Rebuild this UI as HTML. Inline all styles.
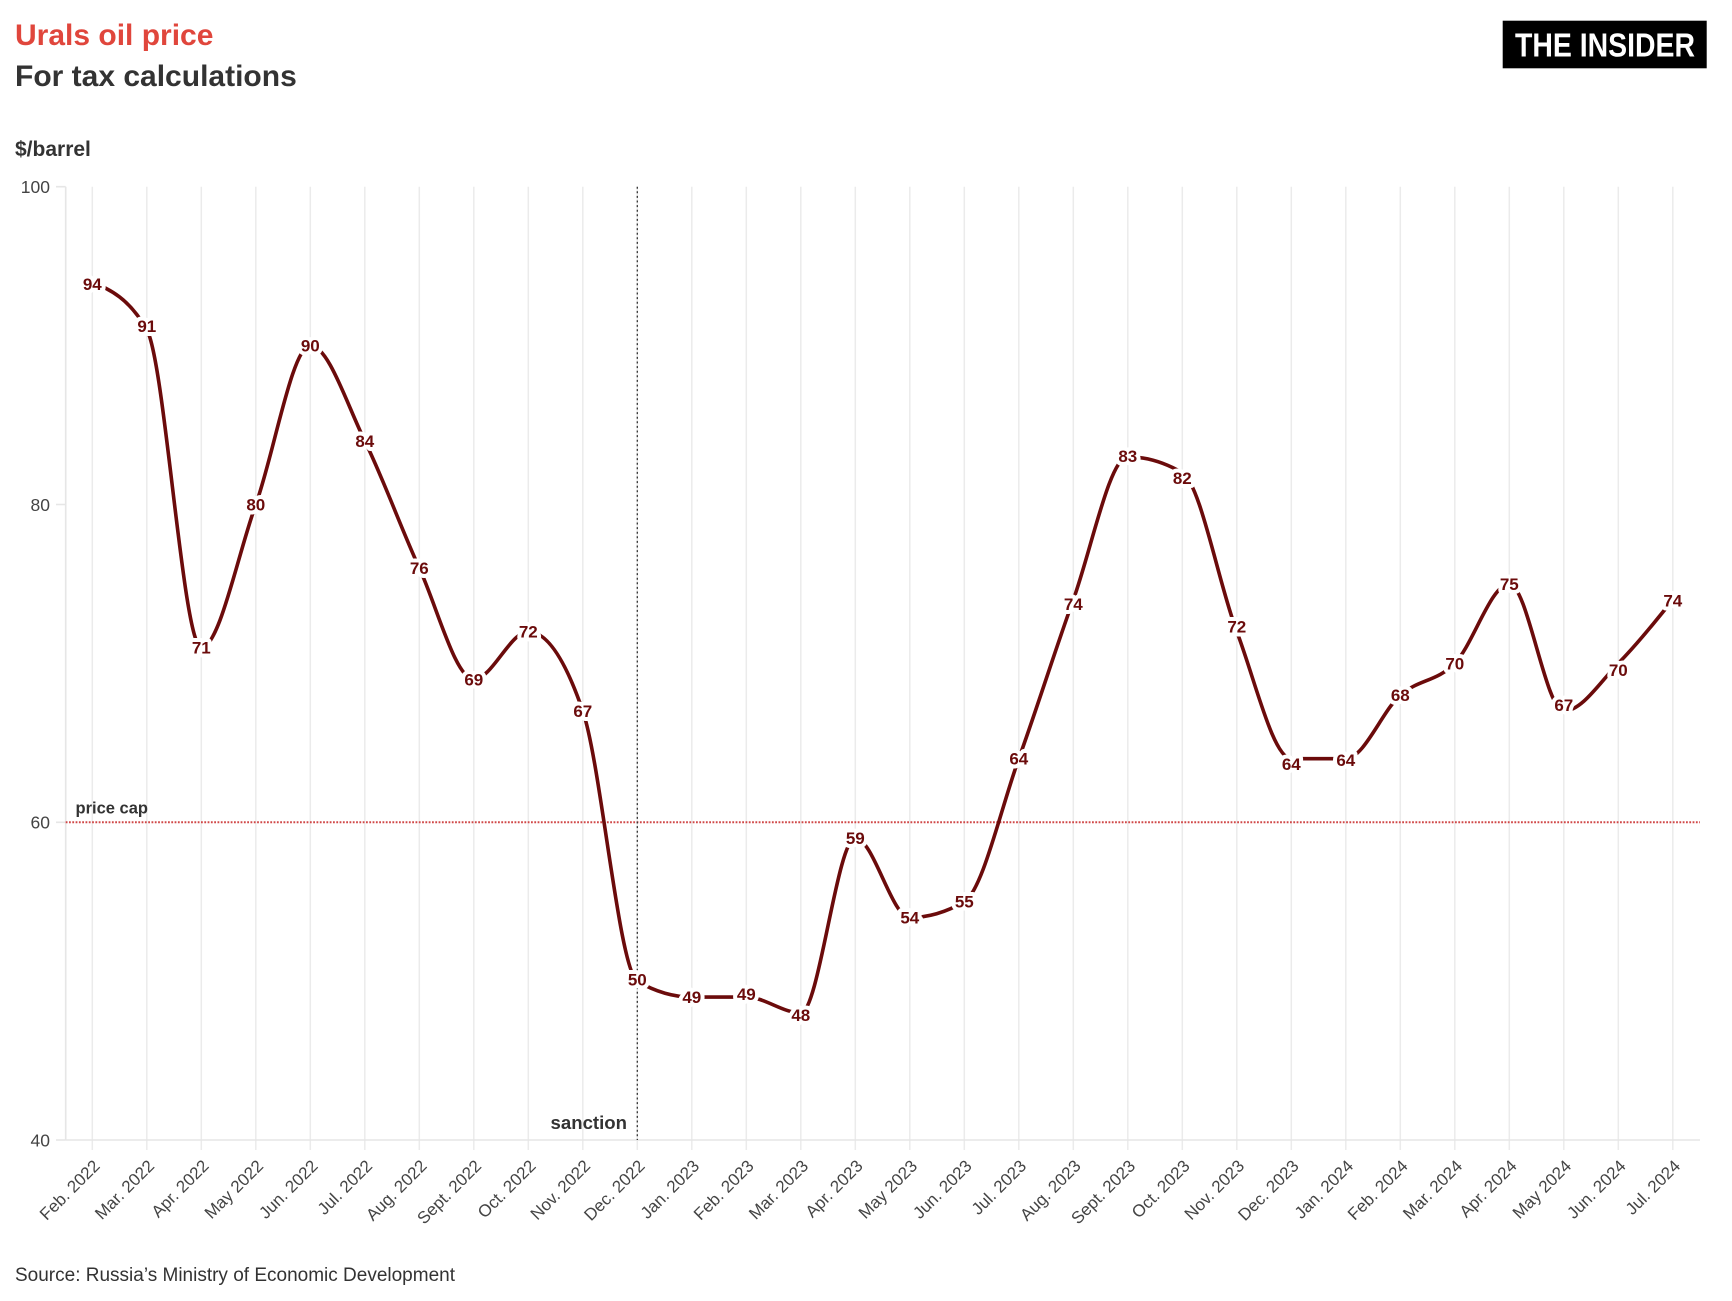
<!DOCTYPE html>
<html>
<head>
<meta charset="utf-8">
<style>
  html,body{margin:0;padding:0;background:#fff;}
  svg{display:block;}
  text{font-family:"Liberation Sans",Arial,sans-serif;}
</style>
</head>
<body>
<svg width="1732" height="1301" viewBox="0 0 1732 1301" xmlns="http://www.w3.org/2000/svg">
  <rect x="0" y="0" width="1732" height="1301" fill="#fff"/>

  <!-- Titles -->
  <text x="15" y="45" font-size="30" font-weight="bold" fill="#e0463c">Urals oil price</text>
  <text x="15" y="86" font-size="30" font-weight="bold" fill="#333">For tax calculations</text>
  <text x="15" y="156" font-size="21" font-weight="bold" fill="#333">$/barrel</text>

  <!-- Logo -->
  <rect x="1502.7" y="20.7" width="204" height="47.6" fill="#000"/>
  <text x="1515" y="56.7" font-size="33" font-weight="bold" fill="#fff" textLength="180" lengthAdjust="spacingAndGlyphs">THE INSIDER</text>

  <!-- Vertical gridlines -->
  <g stroke="#ebebeb" stroke-width="1.5">
    <line x1="92.3" y1="186.7" x2="92.3" y2="1150"/>
    <line x1="146.8" y1="186.7" x2="146.8" y2="1150"/>
    <line x1="201.3" y1="186.7" x2="201.3" y2="1150"/>
    <line x1="255.8" y1="186.7" x2="255.8" y2="1150"/>
    <line x1="310.3" y1="186.7" x2="310.3" y2="1150"/>
    <line x1="364.8" y1="186.7" x2="364.8" y2="1150"/>
    <line x1="419.3" y1="186.7" x2="419.3" y2="1150"/>
    <line x1="473.8" y1="186.7" x2="473.8" y2="1150"/>
    <line x1="528.3" y1="186.7" x2="528.3" y2="1150"/>
    <line x1="582.8" y1="186.7" x2="582.8" y2="1150"/>
    <line x1="637.3" y1="186.7" x2="637.3" y2="1150"/>
    <line x1="691.8" y1="186.7" x2="691.8" y2="1150"/>
    <line x1="746.3" y1="186.7" x2="746.3" y2="1150"/>
    <line x1="800.8" y1="186.7" x2="800.8" y2="1150"/>
    <line x1="855.3" y1="186.7" x2="855.3" y2="1150"/>
    <line x1="909.8" y1="186.7" x2="909.8" y2="1150"/>
    <line x1="964.3" y1="186.7" x2="964.3" y2="1150"/>
    <line x1="1018.8" y1="186.7" x2="1018.8" y2="1150"/>
    <line x1="1073.3" y1="186.7" x2="1073.3" y2="1150"/>
    <line x1="1127.8" y1="186.7" x2="1127.8" y2="1150"/>
    <line x1="1182.3" y1="186.7" x2="1182.3" y2="1150"/>
    <line x1="1236.8" y1="186.7" x2="1236.8" y2="1150"/>
    <line x1="1291.3" y1="186.7" x2="1291.3" y2="1150"/>
    <line x1="1345.8" y1="186.7" x2="1345.8" y2="1150"/>
    <line x1="1400.3" y1="186.7" x2="1400.3" y2="1150"/>
    <line x1="1454.8" y1="186.7" x2="1454.8" y2="1150"/>
    <line x1="1509.3" y1="186.7" x2="1509.3" y2="1150"/>
    <line x1="1563.8" y1="186.7" x2="1563.8" y2="1150"/>
    <line x1="1618.3" y1="186.7" x2="1618.3" y2="1150"/>
    <line x1="1672.8" y1="186.7" x2="1672.8" y2="1150"/>
  </g>

  <!-- Axes -->
  <g stroke="#e6e6e6" stroke-width="1.6">
    <line x1="65.7" y1="186.7" x2="65.7" y2="1140"/>
    <line x1="65.7" y1="1140" x2="1700" y2="1140"/>
    <line x1="56" y1="186.7" x2="65.7" y2="186.7"/>
    <line x1="56" y1="504.5" x2="65.7" y2="504.5"/>
    <line x1="56" y1="822.3" x2="65.7" y2="822.3"/>
    <line x1="56" y1="1140" x2="65.7" y2="1140"/>
  </g>

  <!-- Y labels -->
  <g font-size="17.5" fill="#444" text-anchor="end">
    <text x="50" y="193">100</text>
    <text x="50" y="510.8">80</text>
    <text x="50" y="828.6">60</text>
    <text x="50" y="1146.3">40</text>
  </g>

  <!-- Price cap -->
  <line x1="65.7" y1="822.3" x2="1700" y2="822.3" stroke="#d04848" stroke-width="2" stroke-dasharray="1.8 1.5"/>
  <text x="75.5" y="813.3" font-size="16.5" font-weight="bold" fill="#333">price cap</text>

  <!-- Sanction -->
  <line x1="637.3" y1="186.7" x2="637.3" y2="1140" stroke="#333" stroke-width="1.3" stroke-dasharray="2 2.6"/>
  <text x="627" y="1129" font-size="18.6" font-weight="bold" fill="#333" text-anchor="end">sanction</text>

  <!-- Series line -->
  <g transform="matrix(54.5,0,0,-15.889,92.3,1775.6)">
    <path fill="none" stroke="#6b0b0b" stroke-width="3.6" stroke-linecap="round" stroke-linejoin="round" vector-effect="non-scaling-stroke"
      d="M0,94
         C0.3333,93.5 0.6667,93 1,91
         C1.3333,89 1.6667,71 2,71
         C2.3333,71 2.6667,76.8333 3,80
         C3.3333,83.1667 3.6667,90 4,90
         C4.3333,90 4.6667,86.3333 5,84
         C5.3333,81.6667 5.6667,78.5 6,76
         C6.3333,73.5 6.6667,69 7,69
         C7.3333,69 7.6667,72 8,72
         C8.3333,72 8.6667,70.3333 9,67
         C9.3333,63.6667 9.6667,50.6667 10,50
         C10.3333,49.3333 10.6667,49 11,49
         C11.3333,49 11.6667,49 12,49
         C12.3333,49 12.6667,48 13,48
         C13.3333,48 13.6667,59 14,59
         C14.3333,59 14.6667,54 15,54
         C15.3333,54 15.6667,54.3333 16,55
         C16.3333,55.6667 16.6667,60.8333 17,64
         C17.3333,67.1667 17.6667,70.8333 18,74
         C18.3333,77.1667 18.6667,83 19,83
         C19.3333,83 19.6667,82.6667 20,82
         C20.3333,81.3333 20.6667,75 21,72
         C21.3333,69 21.6667,64 22,64
         C22.3333,64 22.6667,64 23,64
         C23.3333,64 23.6667,67 24,68
         C24.3333,69 24.6667,68.8333 25,70
         C25.3333,71.1667 25.6667,75 26,75
         C26.3333,75 26.6667,67 27,67
         C27.3333,67 27.6667,68.8333 28,70
         C28.3333,71.1667 28.6667,72.5833 29,74"/>
  </g>

  <!-- Value labels -->
  <g font-size="17" font-weight="bold" fill="#6b0b0b" text-anchor="middle" stroke="#fff" stroke-width="8" stroke-linejoin="round" paint-order="stroke">
    <text x="92.3" y="290">94</text>
    <text x="146.8" y="332">91</text>
    <text x="201.3" y="653.5">71</text>
    <text x="255.8" y="510.5">80</text>
    <text x="310.3" y="351.6">90</text>
    <text x="364.8" y="446.9">84</text>
    <text x="419.3" y="574">76</text>
    <text x="473.8" y="685.3">69</text>
    <text x="528.3" y="637.6">72</text>
    <text x="582.8" y="717">67</text>
    <text x="637.3" y="985.5">50</text>
    <text x="691.8" y="1003">49</text>
    <text x="746.3" y="1000">49</text>
    <text x="800.8" y="1021">48</text>
    <text x="855.3" y="844.2">59</text>
    <text x="909.8" y="923.6">54</text>
    <text x="964.3" y="907.7">55</text>
    <text x="1018.8" y="764.7">64</text>
    <text x="1073.3" y="610">74</text>
    <text x="1127.8" y="462">83</text>
    <text x="1182.3" y="484">82</text>
    <text x="1236.8" y="632.5">72</text>
    <text x="1291.3" y="770">64</text>
    <text x="1345.8" y="766">64</text>
    <text x="1400.3" y="701.2">68</text>
    <text x="1454.8" y="669.4">70</text>
    <text x="1509.3" y="589.9">75</text>
    <text x="1563.8" y="711">67</text>
    <text x="1618.3" y="676">70</text>
    <text x="1672.8" y="606.6">74</text>
  </g>

  <!-- X labels -->
  <g font-size="17" fill="#444" text-anchor="end">
    <text transform="translate(100.8,1167) rotate(-45)">Feb. 2022</text>
    <text transform="translate(155.3,1167) rotate(-45)">Mar. 2022</text>
    <text transform="translate(209.8,1167) rotate(-45)">Apr. 2022</text>
    <text transform="translate(264.3,1167) rotate(-45)">May 2022</text>
    <text transform="translate(318.8,1167) rotate(-45)">Jun. 2022</text>
    <text transform="translate(373.3,1167) rotate(-45)">Jul. 2022</text>
    <text transform="translate(427.8,1167) rotate(-45)">Aug. 2022</text>
    <text transform="translate(482.3,1167) rotate(-45)">Sept. 2022</text>
    <text transform="translate(536.8,1167) rotate(-45)">Oct. 2022</text>
    <text transform="translate(591.3,1167) rotate(-45)">Nov. 2022</text>
    <text transform="translate(645.8,1167) rotate(-45)">Dec. 2022</text>
    <text transform="translate(700.3,1167) rotate(-45)">Jan. 2023</text>
    <text transform="translate(754.8,1167) rotate(-45)">Feb. 2023</text>
    <text transform="translate(809.3,1167) rotate(-45)">Mar. 2023</text>
    <text transform="translate(863.8,1167) rotate(-45)">Apr. 2023</text>
    <text transform="translate(918.3,1167) rotate(-45)">May 2023</text>
    <text transform="translate(972.8,1167) rotate(-45)">Jun. 2023</text>
    <text transform="translate(1027.3,1167) rotate(-45)">Jul. 2023</text>
    <text transform="translate(1081.8,1167) rotate(-45)">Aug. 2023</text>
    <text transform="translate(1136.3,1167) rotate(-45)">Sept. 2023</text>
    <text transform="translate(1190.8,1167) rotate(-45)">Oct. 2023</text>
    <text transform="translate(1245.3,1167) rotate(-45)">Nov. 2023</text>
    <text transform="translate(1299.8,1167) rotate(-45)">Dec. 2023</text>
    <text transform="translate(1354.3,1167) rotate(-45)">Jan. 2024</text>
    <text transform="translate(1408.8,1167) rotate(-45)">Feb. 2024</text>
    <text transform="translate(1463.3,1167) rotate(-45)">Mar. 2024</text>
    <text transform="translate(1517.8,1167) rotate(-45)">Apr. 2024</text>
    <text transform="translate(1572.3,1167) rotate(-45)">May 2024</text>
    <text transform="translate(1626.8,1167) rotate(-45)">Jun. 2024</text>
    <text transform="translate(1681.3,1167) rotate(-45)">Jul. 2024</text>
  </g>

  <!-- Source -->
  <text x="15" y="1281" font-size="19" fill="#333">Source: Russia’s Ministry of Economic Development</text>
</svg>
</body>
</html>
